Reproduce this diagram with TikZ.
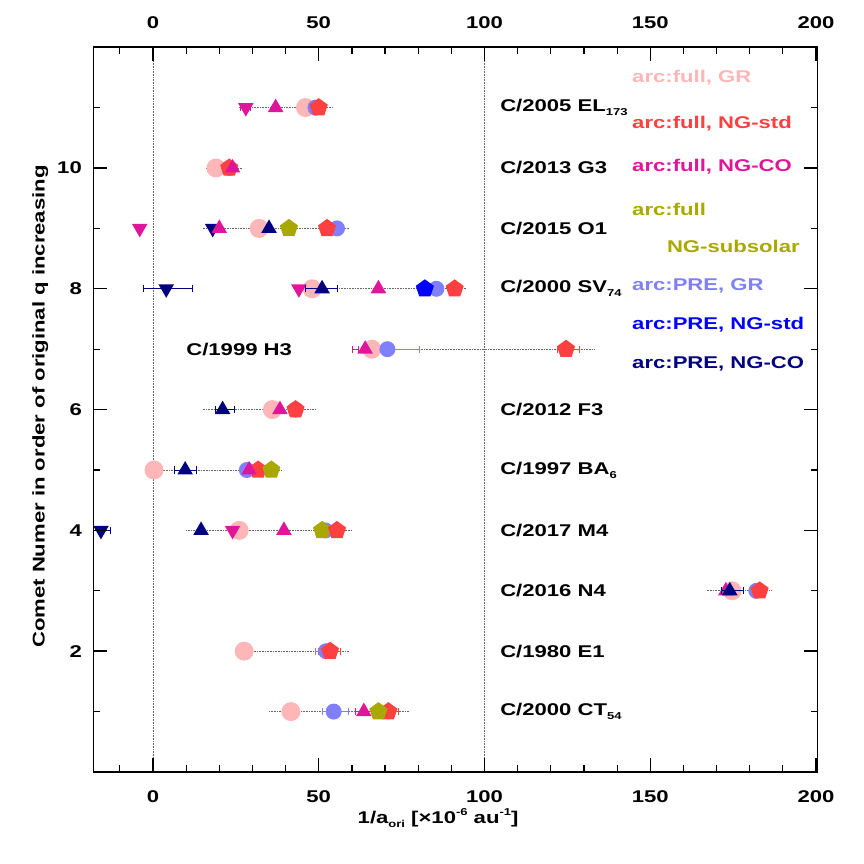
\documentclass[tikz,border=0pt]{standalone}
\usepackage{fontspec}
\setmainfont{Liberation Sans}[FakeStretch=1.3]
\usetikzlibrary{shapes.geometric}
\definecolor{cGR}{RGB}{255,182,182}
\definecolor{cNG}{RGB}{255,64,64}
\definecolor{cCO}{RGB}{224,22,154}
\definecolor{cSS}{RGB}{168,168,0}
\definecolor{cPGR}{RGB}{128,128,255}
\definecolor{cPNG}{RGB}{0,0,255}
\definecolor{cPCO}{RGB}{0,0,128}
\newcommand{\sbs}[1]{\raisebox{-0.45ex}{\fontsize{10}{10}\selectfont #1}}
\newcommand{\sps}[1]{\raisebox{0.9ex}{\fontsize{10}{10}\selectfont #1}}
\begin{document}
\begin{tikzpicture}[x=3.315pt,y=60.4pt,
  font=\fontsize{17}{20}\selectfont\bfseries,
  circG/.style={circle,fill=cGR,inner sep=0,minimum size=19pt},
  circP/.style={circle,fill=cPGR,inner sep=0,minimum size=16pt},
  pent/.style={regular polygon,regular polygon sides=5,inner sep=0,minimum size=19pt,fill=#1},
  tup/.style={regular polygon,regular polygon sides=3,inner sep=0,minimum size=18pt,fill=#1},
  tdn/.style={regular polygon,regular polygon sides=3,shape border rotate=180,inner sep=0,minimum size=18pt,fill=#1},
  guide/.style={densely dotted,gray!80!black,line width=0.6pt},
  ebar/.style={line width=0.8pt,#1},
  lab/.style={anchor=west,inner sep=0},
  leg/.style={anchor=west,inner sep=0,text=#1}]
\useasboundingbox (-153pt,-92pt) rectangle (711pt,772pt);
\newcommand{\eb}[4]{\draw[ebar=#1] (#2,#4) -- (#3,#4) (#2,#4-0.06) -- (#2,#4+0.06) (#3,#4-0.06) -- (#3,#4+0.06);}
% reference dotted verticals
\draw[guide] (0,0) -- (0,12) (100,0) -- (100,12);
% guide lines
\draw[guide] (26,11) -- (54,11);
\draw[guide] (16,10) -- (27,10);
\draw[guide] (15,9) -- (59,9);
\draw[guide] (46,8) -- (94.7,8);
\draw[guide] (60,7) -- (133,7);
\draw[guide] (15,6) -- (49,6);
\draw[guide] (-2.4,5) -- (39,5);
\draw[guide] (10,4) -- (60,4);
\draw[guide] (167,3) -- (186.5,3);
\draw[guide] (27.5,2) -- (59,2);
\draw[guide] (35,1) -- (77,1);
% row 11
\eb{cCO}{26.5}{29.5}{11}
\node[tdn=cCO] at (28,11) {};
\node[tup=cCO] at (37,11) {};
\node[circG] at (46,11) {};
\node[circP] at (49,11) {};
\node[pent=cNG] at (50,11) {};
% row 10
\node[circG] at (19,10) {};
\node[circP] at (23,10) {};
\node[pent=cNG] at (23,10) {};
\node[tup=cCO] at (24,10) {};
% row 9
\node[tdn=cCO] at (-4,9) {};
\node[tdn=cPCO] at (18,9) {};
\node[tup=cCO] at (20,9) {};
\node[circG] at (32,9) {};
\node[tup=cPCO] at (35,9) {};
\node[pent=cSS] at (41,9) {};
\node[circP] at (55.5,9) {};
\node[pent=cNG] at (52.5,9) {};
% row 8
\eb{cPCO}{-3}{12}{8}
\node[tdn=cPCO] at (4,8) {};
\node[circG] at (48,8) {};
\node[tdn=cCO] at (44,8) {};
\eb{cPCO}{46}{55.5}{8}
\node[tup=cPCO] at (51,8) {};
\node[tup=cCO] at (68,8) {};
\node[circP] at (85.5,8) {};
\node[pent=cPNG] at (82,8) {};
\node[pent=cNG] at (91,8) {};
% row 7
\node[lab] at (10,7) {C/1999 H3};
\eb{cCO}{60.3}{62}{7}
\node[circG] at (66,7) {};
\eb{cPGR}{70.7}{80.5}{7}
\node[circP] at (70.7,7) {};
\node[tup=cCO] at (64,7) {};
\eb{cNG}{122}{128.5}{7}
\node[pent=cNG] at (124.6,7) {};
% row 6
\eb{cPCO}{18.7}{24.5}{6}
\node[tup=cPCO] at (21,6) {};
\node[circG] at (36,6) {};
\node[tup=cCO] at (38.3,6) {};
\node[circP] at (43,6) {};
\node[pent=cNG] at (43,6) {};
% row 5
\node[circG] at (0.3,5) {};
\eb{cPCO}{6.4}{13}{5}
\node[tup=cPCO] at (9.7,5) {};
\node[circP] at (28.3,5) {};
\node[pent=cNG] at (31.7,5) {};
\node[tup=cCO] at (29,5) {};
\node[pent=cSS] at (35.7,5) {};
% row 4
\eb{cPCO}{-18}{-12.8}{4}
\node[tdn=cPCO] at (-15.7,4) {};
\node[tup=cPCO] at (14.5,4) {};
\node[circG] at (26,4) {};
\node[tdn=cCO] at (24,4) {};
\node[tup=cCO] at (39.5,4) {};
\node[circP] at (52,4) {};
\node[pent=cSS] at (51,4) {};
\node[pent=cNG] at (55.5,4) {};
% row 3
\node[circG] at (174.7,3) {};
\node[tup=cCO] at (172.8,3) {};
\eb{cPCO}{171.5}{178}{3}
\node[tup=cPCO] at (174,3) {};
\node[circP] at (182,3) {};
\node[pent=cNG] at (183,3) {};
% row 2
\node[circG] at (27.5,2) {};
\eb{cPGR}{49}{55}{2}
\eb{cNG}{50}{56.5}{2}
\node[circP] at (52.2,2) {};
\node[pent=cNG] at (53.4,2) {};
% row 1
\node[circG] at (41.6,1) {};
\eb{cPGR}{51}{59}{1}
\node[circP] at (54.5,1) {};
\eb{cCO}{61}{71}{1}
\node[tup=cCO] at (63.6,1) {};
\eb{cNG}{68}{74}{1}
\node[pent=cNG] at (71,1) {};
\node[pent=cSS] at (68,1) {};
% comet labels
\node[lab] at (104.7,11) {C/2005 EL\sbs{173}};
\node[lab] at (104.7,10) {C/2013 G3};
\node[lab] at (104.7,9) {C/2015 O1};
\node[lab] at (104.7,8) {C/2000 SV\sbs{74}};
\node[lab] at (104.7,6) {C/2012 F3};
\node[lab] at (104.7,5) {C/1997 BA\sbs{6}};
\node[lab] at (104.7,4) {C/2017 M4};
\node[lab] at (104.7,3) {C/2016 N4};
\node[lab] at (104.7,2) {C/1980 E1};
\node[lab] at (104.7,1) {C/2000 CT\sbs{54}};
% legend
\node[leg=cGR] at (144.5,11.5) {arc:full, GR};
\node[leg=cNG] at (144.5,10.73) {arc:full, NG-std};
\node[leg=cCO] at (144.5,10.03) {arc:full, NG-CO};
\node[leg=cSS] at (144.5,9.32) {arc:full};
\node[leg=cSS] at (155,8.7) {NG-subsolar};
\node[leg=cPGR] at (144.5,8.05) {arc:PRE, GR};
\node[leg=cPNG] at (144.5,7.4) {arc:PRE, NG-std};
\node[leg=cPCO] at (144.5,6.75) {arc:PRE, NG-CO};
% frame and ticks
\draw[line width=1.6pt] (-18,0) rectangle (200.5,12);
\foreach \v in {-10,10,20,...,190} {
  \draw[line width=1.2pt] (\v,0) -- ++(0,7pt) (\v,12) -- ++(0,-7pt);}
\foreach \v in {0,50,...,200} {
  \draw[line width=1.4pt] (\v,0) -- ++(0,14pt) (\v,12) -- ++(0,-14pt);
  \node at (\v,-25pt) {\v};
  \node at (\v,12) [yshift=25pt] {\v};}
\foreach \v in {1,...,11} {
  \draw[line width=1.2pt] (-18,\v) -- ++(7pt,0) (200.5,\v) -- ++(-7pt,0);}
\foreach \v in {2,4,...,10} {
  \draw[line width=1.4pt] (-18,\v) -- ++(14pt,0) (200.5,\v) -- ++(-14pt,0);
  \node[anchor=east] at (-18,\v) [xshift=-8pt] {\v};}
\node[rotate=90] at (-34,6.05) {Comet Numer in order of original q increasing};
\node at (86,0) [yshift=-46pt] {1/a\sbs{ori} [×10\sps{-6} au\sps{-1}]};
\end{tikzpicture}
\end{document}
